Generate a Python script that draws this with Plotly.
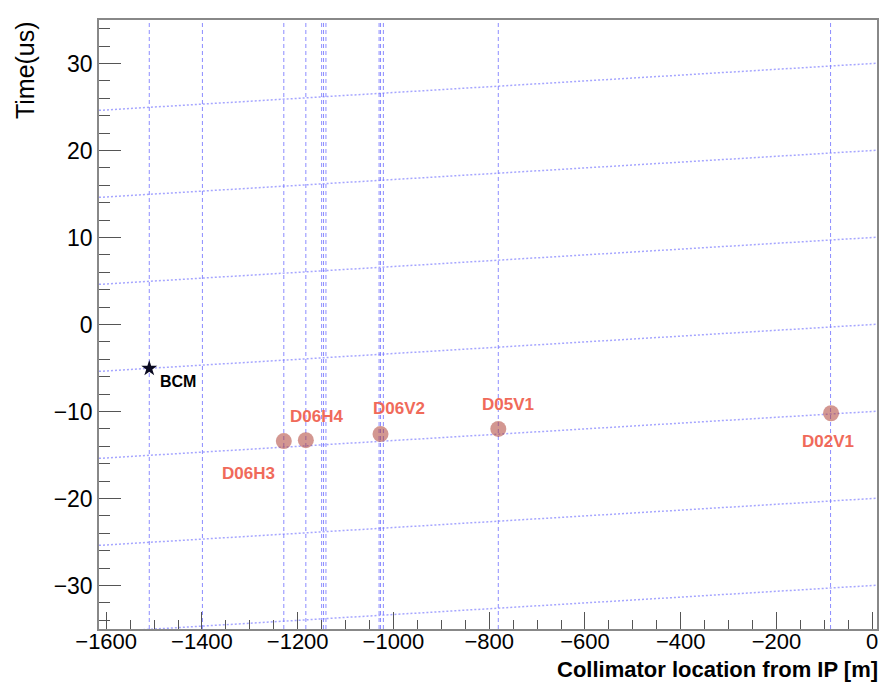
import plotly.graph_objects as go

# collimators (red dots) and beam current monitor (star)
coll_names = ["D06H3", "D06H4", "D06V2", "D05V1", "D02V1"]
coll_x = [-1229, -1183, -1027, -781, -86]
coll_t = [-13.4, -13.3, -12.6, -12.0, -10.2]

bcm_x = [-1510]
bcm_t = [-5.05]

# vertical marker lines (collimator positions)
vline_x = [-1510, -1399, -1229, -1183, -1150, -1146, -1141, -1030, -1027, -1021, -781, -87]

# speed-of-light lines t = t0 + x/c
t0_list = [-30, -20, -10, 0, 10, 20, 30]
c_light = 299.79  # m/us

x_range = [-1615, 10]
y_range = [-35, 35]

# label offsets in pixels (dx, dy)
label_shift = {"D06H3": (-35, -32), "D06H4": (11, 24), "D06V2": (18, 26),
               "D05V1": (10, 24), "D02V1": (-3, -28)}

fnt = "Liberation Sans, Arial, sans-serif"
blue = "rgba(120,120,255,0.85)"

fig = go.Figure()

# sloped dotted lines
sx, sy = [], []
for t0 in t0_list:
    sx += [x_range[0], x_range[1], None]
    sy += [t0 + x_range[0] / c_light, t0 + x_range[1] / c_light, None]
fig.add_trace(go.Scatter(x=sx, y=sy, mode="lines",
                         line=dict(color="rgba(150,150,255,0.85)", width=1.5, dash="2px,2px"),
                         hoverinfo="skip", showlegend=False))

# vertical dashed lines
vx, vy = [], []
for x in vline_x:
    vx += [x, x, None]
    vy += [y_range[0], y_range[1], None]
fig.add_trace(go.Scatter(x=vx, y=vy, mode="lines",
                         line=dict(color=blue, width=1, dash="4px,3px"),
                         hoverinfo="skip", showlegend=False))

fig.add_trace(go.Scatter(x=coll_x, y=coll_t, mode="markers",
                         marker=dict(size=16, color="rgba(175,65,55,0.55)", line=dict(width=0)),
                         showlegend=False))
fig.add_trace(go.Scatter(x=bcm_x, y=bcm_t, mode="markers",
                         marker=dict(symbol="star", size=12, color="#0a0a20", line=dict(width=0)),
                         showlegend=False))

for name, x, t in zip(coll_names, coll_x, coll_t):
    dx, dy = label_shift[name]
    fig.add_annotation(x=x, y=t, text=name, showarrow=False, xshift=dx, yshift=dy,
                       font=dict(family=fnt, size=17, color="#f06a5a", weight="bold"))
fig.add_annotation(x=bcm_x[0], y=bcm_t[0], text="BCM", showarrow=False,
                   xanchor="left", xshift=9, yshift=-13,
                   font=dict(family=fnt, size=16, color="black", weight="bold"))

# axis titles
fig.add_annotation(xref="paper", yref="paper", x=1.004, y=-0.066, xanchor="right", yanchor="middle",
                   text="Collimator location from IP [m]", showarrow=False,
                   font=dict(family=fnt, size=22, color="black", weight="bold"))
fig.add_annotation(xref="paper", yref="paper", x=-0.096, y=1.002, xanchor="center", yanchor="top",
                   text="Time(us)", textangle=-90, showarrow=False,
                   font=dict(family=fnt, size=25, color="black"))

fig.update_layout(
    width=896, height=682,
    margin=dict(l=91, r=27, t=12, b=61),
    paper_bgcolor="white", plot_bgcolor="white",
    font=dict(family=fnt, size=23, color="black"),
)
fig.update_xaxes(range=x_range, dtick=200, tick0=0, ticks="inside", ticklen=17, tickwidth=1,
                 tickcolor="#555", showgrid=False, zeroline=False, automargin=False,
                 ticklabelstandoff=-8, tickfont=dict(size=22),
                 showline=True, linecolor="#888", linewidth=1.5, mirror=True,
                 minor=dict(ticks="inside", dtick=50, ticklen=9, tickcolor="#555", showgrid=False))
fig.update_yaxes(range=y_range, dtick=10, tick0=0, ticks="inside", ticklen=22, tickwidth=1,
                 tickcolor="#555", showgrid=False, zeroline=False, automargin=False,
                 showline=True, linecolor="#888", linewidth=1.5, mirror=True,
                 minor=dict(ticks="inside", dtick=2, ticklen=11, tickcolor="#555", showgrid=False))

fig.write_html("out.html")
